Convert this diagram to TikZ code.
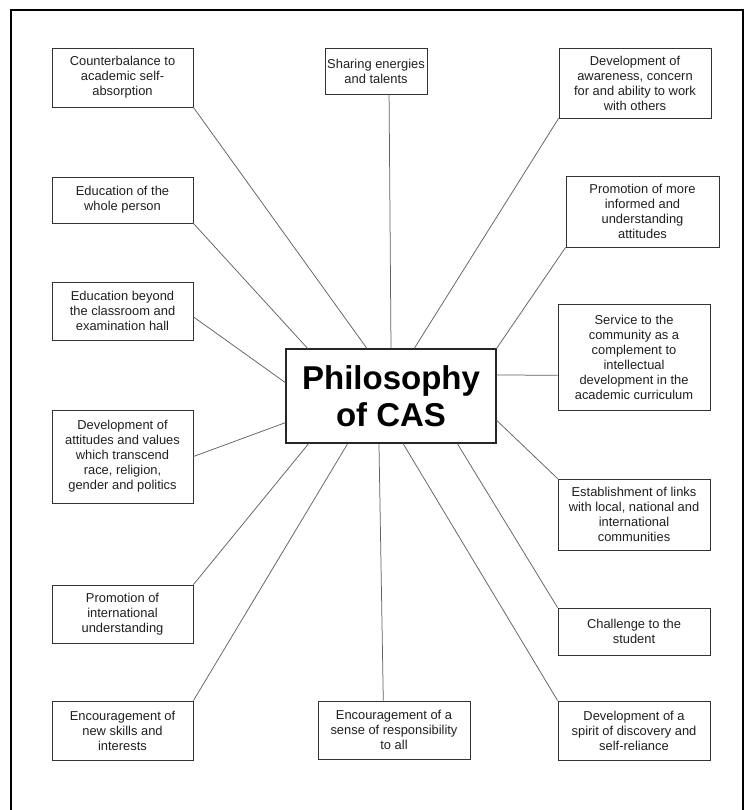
\documentclass[tikz,border=0pt]{standalone}
\usepackage{fontspec}
\setmainfont{Liberation Sans}
\usetikzlibrary{calc}
\tikzset{
  leaf/.style={draw=black!80, line width=0.9pt, rectangle, inner sep=0pt, align=center,
    text=black!88, font=\fontsize{12.9}{15}\selectfont},
  hub/.style={draw=black!85, line width=1.1pt, rectangle, inner sep=0pt, align=center,
    text=black, font=\fontsize{33}{37}\selectfont\bfseries,
    minimum width=210pt, minimum height=94pt},
  link/.style={draw=black!62, line width=0.75pt},
  frame/.style={draw=black, line width=2.6pt}
}
\begin{document}
\begin{tikzpicture}[x=1pt,y=-1pt]
\useasboundingbox (0,0) rectangle (746,810);
\draw[frame] (11,815) -- (11,10) -- (743,10) -- (743,815);

\node[hub] (ctr) at (391,396) {Philosophy\\of CAS};

\node[leaf, minimum width=141pt, minimum height=59pt] (cb) at (122.5,77.5) {Counterbalance to\\academic self-\\absorption};
\node[leaf, minimum width=102pt, minimum height=46pt] (sh) at (376,71) {Sharing energies\\and talents};
\node[leaf, minimum width=152pt, minimum height=70pt] (da) at (635,83) {Development of\\awareness, concern\\for and ability to work\\with others};
\node[leaf, minimum width=141pt, minimum height=46pt] (ew) at (122.5,200) {Education of the\\whole person};
\node[leaf, minimum width=153pt, minimum height=71pt] (pm) at (642.5,211.5) {Promotion of more\\informed and\\understanding\\attitudes};
\node[leaf, minimum width=141pt, minimum height=58pt] (eb) at (122.5,311) {Education beyond\\the classroom and\\examination hall};
\node[leaf, minimum width=152pt, minimum height=106pt] (sv) at (634,357) {Service to the\\community as a\\complement to\\intellectual\\development in the\\academic curriculum};
\node[leaf, minimum width=141pt, minimum height=93pt] (dv) at (122.5,456.5) {Development of\\attitudes and values\\which transcend\\race, religion,\\gender and politics};
\node[leaf, minimum width=152pt, minimum height=71pt] (es) at (634,514.5) {Establishment of links\\with local, national and\\international\\communities};
\node[leaf, minimum width=141pt, minimum height=58pt] (pi) at (122.5,614) {Promotion of\\international\\understanding};
\node[leaf, minimum width=152pt, minimum height=47pt] (ch) at (634,631.5) {Challenge to the\\student};
\node[leaf, minimum width=141pt, minimum height=59pt] (en) at (122.5,730.5) {Encouragement of\\new skills and\\interests};
\node[leaf, minimum width=152pt, minimum height=58pt] (rs) at (394,730) {Encouragement of a\\sense of responsibility\\to all};
\node[leaf, minimum width=152pt, minimum height=59pt] (ds) at (634,730.5) {Development of a\\spirit of discovery and\\self-reliance};

% connectors
\draw[link] (cb.south east) -- ($(ctr.north west)!0.386!(ctr.north east)$);
\draw[link] ($(sh.south west)!0.627!(sh.south east)$) -- (ctr.north);
\draw[link] (da.south west) -- ($(ctr.north west)!0.61!(ctr.north east)$);
\draw[link] (pm.south west) -- (ctr.north east);
\draw[link] (ew.south east) -- ($(ctr.north west)!0.105!(ctr.north east)$);
\draw[link] ($(eb.north east)!0.6!(eb.south east)$) -- ($(ctr.north west)!0.36!(ctr.south west)$);
\draw[link] ($(sv.north west)!0.67!(sv.south west)$) -- ($(ctr.north east)!0.28!(ctr.south east)$);
\draw[link] (dv.east) -- ($(ctr.north west)!0.78!(ctr.south west)$);
\draw[link] (es.north west) -- ($(ctr.north east)!0.755!(ctr.south east)$);
\draw[link] (pi.north east) -- ($(ctr.south west)!0.11!(ctr.south east)$);
\draw[link] (en.north east) -- ($(ctr.south west)!0.295!(ctr.south east)$);
\draw[link] ($(rs.north west)!0.43!(rs.north east)$) -- ($(ctr.south west)!0.443!(ctr.south east)$);
\draw[link] (ds.north west) -- ($(ctr.south west)!0.557!(ctr.south east)$);
\draw[link] (ch.north west) -- ($(ctr.south west)!0.814!(ctr.south east)$);
\end{tikzpicture}
\end{document}
